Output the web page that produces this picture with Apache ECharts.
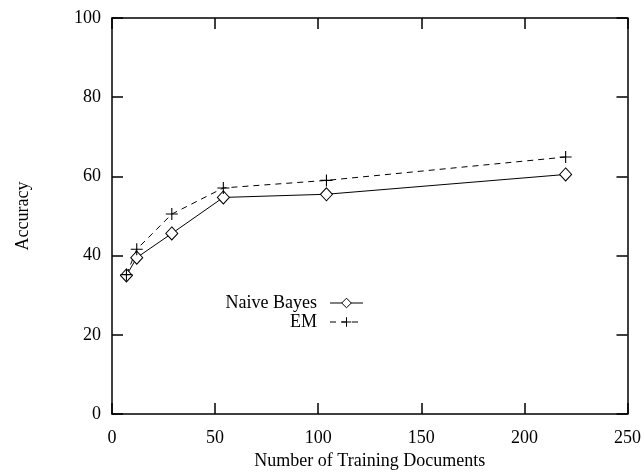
<!DOCTYPE html>
<html>
<head>
<meta charset="utf-8">
<script src="https://cdn.jsdelivr.net/npm/echarts@6/dist/echarts.min.js"></script>
<style>
  html, body { margin: 0; padding: 0; background: #fff; }
  #chart { width: 644px; height: 475px; }
</style>
</head>
<body>
<div id="chart"></div>
<script>
// Training set sizes (x) and accuracy (%) for each method
var trainingDocs = [7, 12, 29, 54, 104, 220];
var naiveBayes = [35.0, 39.5, 45.6, 54.7, 55.5, 60.5];
var emAccuracy = [35.2, 41.6, 50.5, 57.1, 59.0, 64.9];
var xTicks = [0, 50, 100, 150, 200, 250];
var yTicks = [0, 20, 40, 60, 80, 100];

var FONT = 'Liberation Serif';
var plusPath = 'path://M0,5L10,5M5,0L5,10';

function pairs(xs, ys) {
  return xs.map(function (x, i) { return [x, ys[i]]; });
}

var axisLineStyle = { color: '#000', width: 1.5 };

function xAxisDef(showLabels) {
  return {
    type: 'value',
    position: showLabels ? 'bottom' : 'top',
    min: xTicks[0],
    max: xTicks[xTicks.length - 1],
    interval: xTicks[1] - xTicks[0],
    name: showLabels ? 'Number of Training Documents' : '',
    nameLocation: 'middle',
    nameGap: 35,
    nameTextStyle: { fontFamily: FONT, fontSize: 18, color: '#000' },
    axisLine: { show: true, onZero: false, lineStyle: axisLineStyle },
    axisTick: { show: true, inside: true, length: 11, lineStyle: axisLineStyle },
    axisLabel: { show: showLabels, margin: 15, fontFamily: FONT, fontSize: 18, color: '#000' },
    splitLine: { show: false }
  };
}

function yAxisDef(showLabels) {
  return {
    type: 'value',
    position: showLabels ? 'left' : 'right',
    min: yTicks[0],
    max: yTicks[yTicks.length - 1],
    interval: yTicks[1] - yTicks[0],
    name: showLabels ? 'Accuracy' : '',
    nameLocation: 'middle',
    nameRotate: 90,
    nameGap: 80,
    nameTextStyle: { fontFamily: FONT, fontSize: 18, color: '#000' },
    axisLine: { show: true, onZero: false, lineStyle: axisLineStyle },
    axisTick: { show: true, inside: true, length: 11, lineStyle: axisLineStyle },
    axisLabel: { show: showLabels, margin: 11, fontFamily: FONT, fontSize: 18, color: '#000' },
    splitLine: { show: false }
  };
}

var chart = echarts.init(document.getElementById('chart'), null, { renderer: 'canvas' });
chart.setOption({
  animation: false,
  backgroundColor: '#fff',
  grid: { left: 112, right: 16, top: 18, bottom: 51, containLabel: false },
  xAxis: [xAxisDef(true), xAxisDef(false)],
  yAxis: [yAxisDef(true), yAxisDef(false)],
  legend: {
    orient: 'vertical',
    left: 222,
    top: 294,
    padding: 0,
    itemGap: 1,
    itemWidth: 33,
    itemHeight: 12,
    align: 'right',
    lineStyle: { width: 1 },
    itemStyle: { borderWidth: 1 },
    textStyle: {
      fontFamily: FONT, fontSize: 18, color: '#000',
      width: 95, align: 'right', lineHeight: 18, padding: [0, 8, 0, 0]
    },
    data: ['Naive Bayes', 'EM']
  },
  series: [
    {
      name: 'Naive Bayes',
      type: 'line',
      data: pairs(trainingDocs, naiveBayes),
      symbol: 'diamond',
      symbolSize: [12, 13],
      lineStyle: { color: '#000', width: 1, type: 'solid' },
      itemStyle: { color: '#fff', borderColor: '#000', borderWidth: 1 }
    },
    {
      name: 'EM',
      type: 'line',
      data: pairs(trainingDocs, emAccuracy),
      symbol: plusPath,
      symbolSize: 12,
      lineStyle: { color: '#000', width: 1, type: [6, 5] },
      itemStyle: { color: 'rgba(0,0,0,0)', borderColor: '#000', borderWidth: 1.1 }
    }
  ]
});
</script>
</body>
</html>
